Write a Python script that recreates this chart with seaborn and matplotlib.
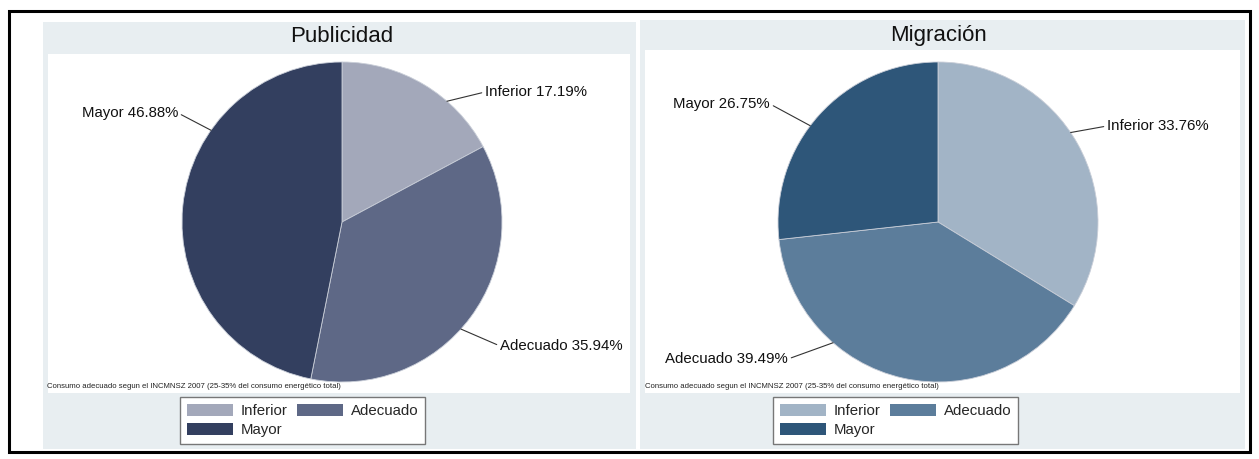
import numpy as np
import matplotlib
matplotlib.use("Agg")
import matplotlib.pyplot as plt
from matplotlib.patches import Rectangle
import seaborn as sns

# ---- data -------------------------------------------------------------
categories = ["Inferior", "Adecuado", "Mayor"]
publicidad_pct = [17.19, 35.94, 46.88]
migracion_pct = [33.76, 39.49, 26.75]
panel_titles = ["Publicidad", "Migración"]
note_text = "Consumo adecuado segun el INCMNSZ 2007 (25-35% del consumo energético total)"

# ---- style ------------------------------------------------------------
sns.set_theme(style="white")
plt.rcParams["font.family"] = ["Liberation Sans", "DejaVu Sans"]

pal_pub = sns.color_palette(["#a3a8ba", "#5e6886", "#333f5f"])
pal_mig = sns.color_palette(["#a2b4c6", "#5c7d9b", "#2e5679"])
panel_bg = "#e8eef1"

W, H = 1259, 459
fig = plt.figure(figsize=(W / 100, H / 100), dpi=100)
fig.patch.set_facecolor("white")


def rect_px(x0, y0, x1, y1, z=-5, **kw):
    """Rectangle given in pixel coords measured from the top-left corner."""
    fig.patches.append(Rectangle((x0 / W, 1 - y1 / H), (x1 - x0) / W, (y1 - y0) / H,
                                 transform=fig.transFigure, figure=fig, zorder=z, **kw))


def axes_px(x0, y0, x1, y1):
    return fig.add_axes([x0 / W, 1 - y1 / H, (x1 - x0) / W, (y1 - y0) / H])


# outer frame
rect_px(9, 11, 1250, 452, z=5, facecolor="none", edgecolor="black", linewidth=2.2)

panels = [
    dict(values=publicidad_pct, pal=pal_pub, title=panel_titles[0],
         bg=(43, 22, 636, 449), plot=(48, 54, 630, 393),
         center=(342, 222), radius=160, title_y=37, note_x=47,
         legend_xy=(180, 397),
         # (category index, edge angle clockwise from top, text x, text y, alignment)
         labels=[(0, 41, 485, 92, "left"), (1, 132, 500, 346, "left"),
                 (2, 305, 178, 113, "right")]),
    dict(values=migracion_pct, pal=pal_mig, title=panel_titles[1],
         bg=(640, 20, 1245, 449), plot=(645, 50, 1240, 393),
         center=(938, 222), radius=160, title_y=36, note_x=645,
         legend_xy=(773, 397),
         labels=[(0, 56, 1107, 126, "left"), (1, 221, 788, 359, "right"),
                 (2, 307, 770, 104, "right")]),
]

for p in panels:
    rect_px(*p["bg"], z=-6, facecolor=panel_bg, edgecolor="none")
    rect_px(*p["plot"], z=-5, facecolor="white", edgecolor="none")

    cx, cy = p["center"]
    r = p["radius"]
    ax = axes_px(cx - r, cy - r, cx + r, cy + r)
    ax.set_zorder(1)
    ax.patch.set_visible(False)
    wedges, _ = ax.pie(p["values"], colors=p["pal"], startangle=90, counterclock=False,
                       radius=1.0, wedgeprops=dict(linewidth=0.6, edgecolor="#c9ced8"))
    ax.set_xlim(-1, 1)
    ax.set_ylim(-1, 1)
    ax.set_aspect("equal")
    ax.axis("off")

    for idx, ang, tx, ty, ha in p["labels"]:
        th = np.deg2rad(ang)
        label = f"{categories[idx]} {p['values'][idx]:.2f}%"
        ax.annotate(label, xy=(np.sin(th), np.cos(th)), xycoords="data",
                    xytext=(tx, H - ty), textcoords="figure pixels",
                    ha=ha, va="center", fontsize=10.8, color="#111111",
                    annotation_clip=False,
                    arrowprops=dict(arrowstyle="-", color="#333333", lw=0.8,
                                    shrinkA=0, shrinkB=0,
                                    relpos=(0, 0.5) if ha == "left" else (1, 0.5)))

    fig.text(cx / W, 1 - p["title_y"] / H, p["title"], ha="center", va="center",
             fontsize=16, color="#111111")
    fig.text(p["note_x"] / W, 1 - 386 / H, note_text, ha="left", va="center",
             fontsize=5.6, color="#222222")

    order = [0, 2, 1]
    leg = fig.legend([wedges[i] for i in order], [categories[i] for i in order],
                     loc="upper left",
                     bbox_to_anchor=(p["legend_xy"][0] / W, 1 - p["legend_xy"][1] / H),
                     bbox_transform=fig.transFigure, ncol=2, fontsize=10.8,
                     frameon=True, fancybox=False, framealpha=1, edgecolor="#777777",
                     handlelength=3.1, handleheight=0.85, handletextpad=0.5,
                     columnspacing=0.6, labelspacing=0.35, borderpad=0.45,
                     borderaxespad=0)
    leg.get_frame().set_linewidth(1.0)
    for h in leg.legend_handles:
        h.set_edgecolor("none")

fig.savefig("out.png", dpi=100)
